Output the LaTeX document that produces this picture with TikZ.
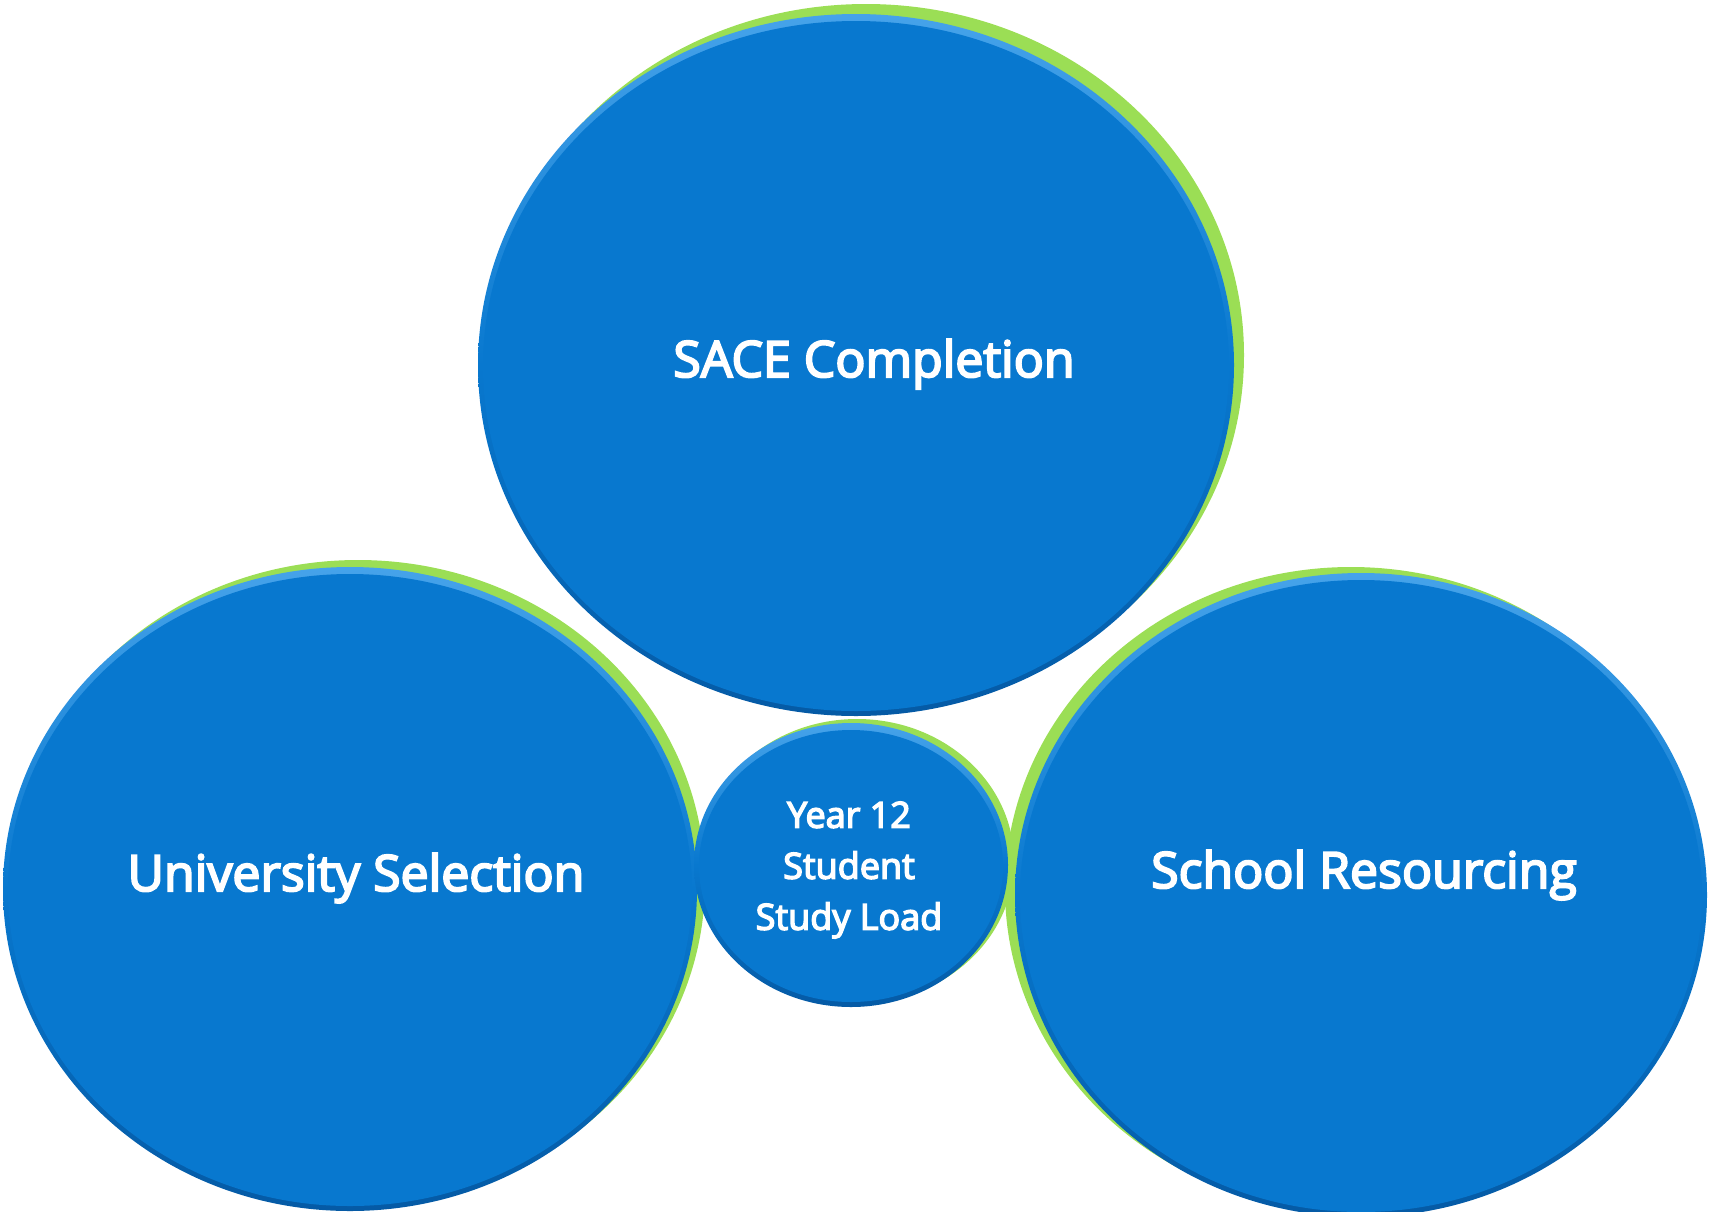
\documentclass[tikz,border=0pt]{standalone}
\usepackage{fontspec}
\setmainfont{Open Sans}
\newfontfamily\bubblefont{Open Sans}[FakeBold=4]
\definecolor{bubbleFace}{RGB}{8,120,207}
\definecolor{bubbleLight}{RGB}{70,163,234}
\definecolor{bubbleDark}{RGB}{5,90,165}
\definecolor{bubbleRim}{RGB}{155,222,85}
\tikzset{
  big label/.style={text=white, align=center, font=\bubblefont\fontsize{50}{60}\selectfont},
  small label/.style={text=white, align=center, font=\bubblefont\fontsize{36}{51}\selectfont},
}
% bubble: centre x, centre y, x radius, y radius, rim shift x, rim shift y
\newcommand{\bubble}[6]{%
  \fill[bubbleRim] (#1+#5,#2+#6) ellipse [x radius=#3, y radius=#4];
  \shade[top color=bubbleLight, bottom color=bubbleDark, middle color=bubbleFace]
    (#1,#2) ellipse [x radius=#3, y radius=#4];
  \fill[bubbleFace] (#1,#2-1) ellipse [x radius=#3-5, y radius=#4-6];
}

\begin{document}
\begin{tikzpicture}[x=1pt, y=1pt]
\useasboundingbox (0,0) rectangle (1711,-1211);

% the three outer bubbles, then the small one in the middle
\bubble{856}{-365}{378}{351}{10}{10}
\bubble{350}{-889}{347}{322}{8}{7}
\bubble{1361}{-895}{346}{322}{-10}{6}
\bubble{851}{-865}{157}{142}{6}{4}

\node[big label] (sace) at (874,-364) {SACE Completion};
\node[big label] (uni) at (356,-878) {University Selection};
\node[big label] (school) at (1364,-875) {School Resourcing};
\node[small label] (load) at (849,-870) {Year 12\\Student\\Study Load};
\end{tikzpicture}
\end{document}
